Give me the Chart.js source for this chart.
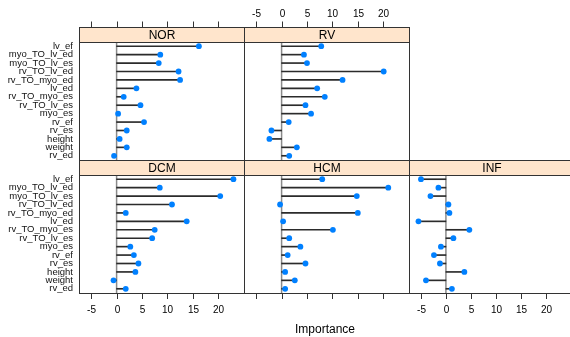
<!DOCTYPE html>
<html>
<head>
<meta charset="utf-8">
<script src="https://cdn.jsdelivr.net/npm/chart.js@4/dist/chart.umd.min.js"></script>
<style>
  body { margin: 0; background: #fff; }
  #wrap { position: relative; width: 570px; height: 337px; overflow: hidden; }
  #wrap canvas { position: absolute; left: 0; top: 0; }
  #xlab { position: absolute; left: 225px; width: 200px; top: 322px; text-align: center;
          font: 12px "Liberation Sans", Arial, sans-serif; color: #000; }
</style>
</head>
<body>
<div id="wrap">
  <canvas id="nor" width="570" height="337"></canvas>
  <canvas id="rv" width="570" height="337"></canvas>
  <canvas id="dcm" width="570" height="337"></canvas>
  <canvas id="hcm" width="570" height="337"></canvas>
  <canvas id="inf" width="570" height="337"></canvas>
  <div id="xlab">Importance</div>
</div>
<script>
// variables, top to bottom
const variables = ['lv_ef', 'myo_TO_lv_ed', 'myo_TO_lv_es', 'rv_TO_lv_ed', 'rv_TO_myo_ed', 'lv_ed',
  'rv_TO_myo_es', 'rv_TO_lv_es', 'myo_es', 'rv_ef', 'rv_es', 'height', 'weight', 'rv_ed'];

// importance per class
const norVals = [16.2, 8.6, 8.3, 12.2, 12.5, 3.9, 1.4, 4.7, 0.3, 5.4, 2.0, 0.6, 2.0, -0.5];
const rvVals  = [7.8, 4.4, 5.0, 20.1, 12.0, 7.0, 8.5, 4.7, 5.8, 1.4, -2.0, -2.4, 3.0, 1.5];
const dcmVals = [23.0, 8.5, 20.4, 10.9, 1.8, 13.8, 7.5, 7.0, 2.7, 3.4, 4.3, 3.7, -0.6, 1.8];
const hcmVals = [8.0, 21.0, 14.8, -0.3, 15.0, 0.3, 10.1, 1.5, 3.7, 1.2, 4.7, 0.7, 2.6, 0.7];
const infVals = [-5.0, -1.5, -3.1, 0.5, 0.7, -5.5, 4.7, 1.5, -1.0, -2.4, -1.2, 3.7, -4.0, 1.2];

const tickVals = [-5, 0, 5, 10, 15, 20];

const FONT = '"Liberation Sans", Arial, sans-serif';
const W = 570, H = 337;
const colLeft = [79, 244, 409];
const colWidth = 165;
const pxPerUnit = 5.08;
const xMin = -7.4;

const rowsPos = {
  top:    { stripTop: 27,  stripBot: 42,  panelBot: 160 },
  bottom: { stripTop: 160, stripBot: 175, panelBot: 293 }
};

// strip, border, zero line and axis ticks for each panel
const panelDecor = {
  id: 'panelDecor',
  beforeDatasetsDraw(chart, args, opts) {
    const { ctx, chartArea: a, scales: { x } } = chart;
    const x0 = x.getPixelForValue(0);
    ctx.save();
    ctx.strokeStyle = '#8a8a8a';
    ctx.lineWidth = 1.5;
    ctx.beginPath();
    ctx.moveTo(x0, a.top);
    ctx.lineTo(x0, a.bottom);
    ctx.stroke();
    ctx.restore();
  },
  afterDraw(chart, args, opts) {
    const { ctx, chartArea: a, scales: { x } } = chart;
    const left = Math.round(a.left) + 0.5;
    const right = Math.round(a.left) + colWidth + 0.5;
    ctx.save();
    // strip
    ctx.fillStyle = '#ffe5cc';
    ctx.fillRect(left, opts.stripTop + 0.5, right - left, opts.stripBot - opts.stripTop);
    ctx.strokeStyle = '#333';
    ctx.lineWidth = 1;
    ctx.strokeRect(left, opts.stripTop + 0.5, right - left, opts.stripBot - opts.stripTop);
    ctx.fillStyle = '#000';
    ctx.font = '12px ' + FONT;
    ctx.textAlign = 'center';
    ctx.textBaseline = 'middle';
    ctx.fillText(opts.title, (left + right) / 2, (opts.stripTop + opts.stripBot) / 2 + 1);
    // panel border
    ctx.strokeRect(left, opts.stripBot + 0.5, right - left, opts.panelBot - opts.stripBot);
    // ticks
    ctx.font = '10px ' + FONT;
    tickVals.forEach(v => {
      const px = Math.round(x.getPixelForValue(v)) + 0.5;
      ctx.beginPath();
      if (opts.side === 'top') {
        ctx.moveTo(px, opts.stripTop);
        ctx.lineTo(px, opts.stripTop - 5.5);
      } else {
        ctx.moveTo(px, opts.panelBot + 0.5);
        ctx.lineTo(px, opts.panelBot + 6);
      }
      ctx.stroke();
      if (opts.labels) {
        const ly = opts.side === 'top' ? opts.stripTop - 12.5 : opts.panelBot + 17;
        ctx.fillText(String(v), px, ly);
      }
    });
    ctx.restore();
  }
};

function makePanel(id, title, vals, col, row, side, labels) {
  const r = rowsPos[row];
  const isFirst = col === 0;
  const rightEdge = Math.min(colLeft[col] + colWidth, W);
  const xMax = xMin + (rightEdge - colLeft[col]) / pxPerUnit;
  const yScale = {
    type: 'category',
    offset: true,
    display: isFirst,
    grid: { display: false, drawTicks: false },
    border: { display: false },
    ticks: { color: '#111', font: { family: FONT, size: 9.5 }, padding: 6, autoSkip: false }
  };
  if (isFirst) yScale.afterFit = s => { s.width = colLeft[0]; };

  return new Chart(document.getElementById(id), {
    type: 'bar',
    data: {
      labels: variables,
      datasets: [
        {
          type: 'line',
          data: vals,
          showLine: false,
          pointRadius: 2.9,
          pointHoverRadius: 2.9,
          pointBackgroundColor: '#0080ff',
          pointBorderColor: '#0080ff',
          pointBorderWidth: 0,
          order: 1
        },
        {
          type: 'bar',
          data: vals,
          backgroundColor: '#2b2b2b',
          borderWidth: 0,
          barThickness: 1,
          order: 2
        }
      ]
    },
    options: {
      indexAxis: 'y',
      responsive: false,
      animation: false,
      events: [],
      layout: {
        padding: {
          left: isFirst ? 0 : colLeft[col],
          right: W - rightEdge,
          top: r.stripBot,
          bottom: H - r.panelBot
        }
      },
      plugins: {
        legend: { display: false },
        tooltip: { enabled: false },
        panelDecor: { title, side, labels, ...r }
      },
      scales: {
        x: { type: 'linear', min: xMin, max: xMax, display: false },
        y: yScale
      }
    },
    plugins: [panelDecor]
  });
}

makePanel('nor', 'NOR', norVals, 0, 'top', 'top', false);
makePanel('rv', 'RV', rvVals, 1, 'top', 'top', true);
makePanel('dcm', 'DCM', dcmVals, 0, 'bottom', 'bottom', true);
makePanel('hcm', 'HCM', hcmVals, 1, 'bottom', 'bottom', false);
makePanel('inf', 'INF', infVals, 2, 'bottom', 'bottom', true);
</script>
</body>
</html>
